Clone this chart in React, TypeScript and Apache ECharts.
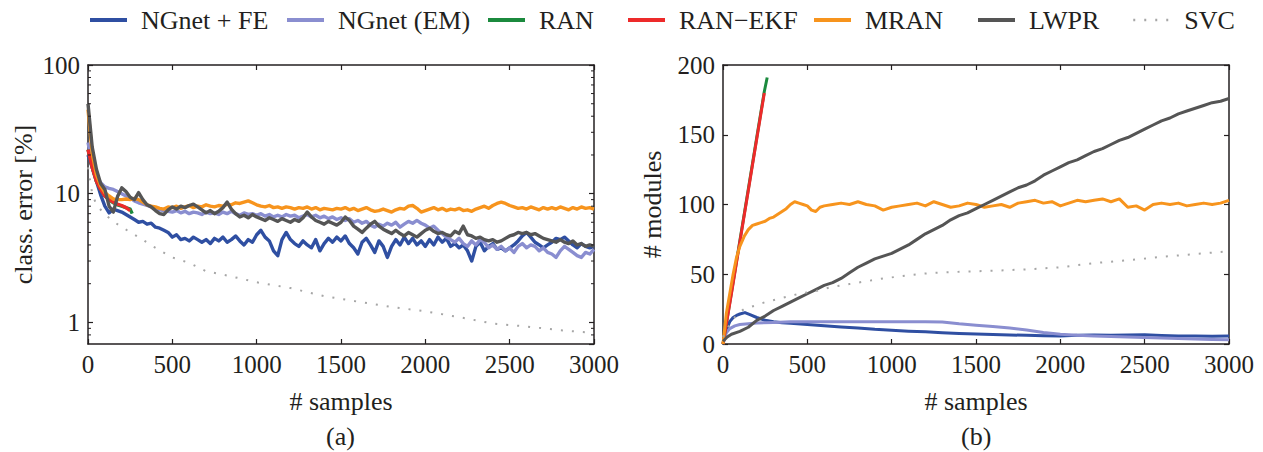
import React, { useEffect, useRef } from "react";
import * as echarts from "echarts";

const FONT = "'Liberation Serif', 'Times New Roman', Times, serif";
const INK = "#231f20";

const SERIES_NAMES = ["NGnet + FE", "NGnet (EM)", "RAN", "RAN\u2212EKF", "MRAN", "LWPR", "SVC"];
const SERIES_COLORS = ["#2f4fa2", "#8a8ed0", "#1b8a3e", "#ed2a2a", "#f7941d", "#555555", "#a6a6a6"];
const LEGEND_LEFT = [88, 285, 486, 626, 812, 976, 1132];

// x ticks for both panels
const SAMPLE_MIN = 0;
const SAMPLE_MAX = 3000;
const SAMPLE_STEP = 500;

// log-axis minor tick values for panel (a)
const MINOR_TICKS_A = [0.8, 0.9, 2, 3, 4, 5, 6, 7, 8, 9, 20, 30, 40, 50, 60, 70, 80, 90];

// Panel (a): classification error [%], sampled every 25 samples (0..3000)
const samplesA = Array.from({ length: 121 }, (_, i) => i * 25);

const errNGnetFE = [
  20, 16, 12.5, 9.8, 8.0, 7.1, 7.6, 7.4, 7.2, 6.9,
  6.6, 6.3, 6.0, 6.1, 5.8, 5.9, 5.5, 5.4, 5.2, 5.0,
  4.6, 4.8, 4.4, 4.5, 4.3, 4.6, 4.4, 4.2, 4.4, 4.1,
  4.5, 4.3, 4.6, 4.2, 4.4, 4.7, 4.3, 4.0, 4.4, 4.2,
  4.8, 5.2, 4.6, 4.3, 3.6, 3.3, 4.4, 5.0, 4.4, 4.1,
  3.9, 4.3, 4.0, 3.8, 4.4, 3.6, 4.1, 4.5, 4.2, 4.6,
  4.3, 4.7, 4.1, 3.8, 3.4, 4.2, 4.5, 4.0, 3.5, 4.3,
  3.9, 3.2, 3.9, 4.4, 4.0, 4.6, 4.1, 4.5, 4.0, 4.3,
  3.9, 4.4, 4.0, 4.6, 4.2, 4.5, 3.9, 4.1, 3.8, 4.0,
  3.6, 3.0, 3.9, 4.2, 3.6, 3.9, 4.1, 3.7, 3.8, 3.6,
  3.8, 4.0, 4.3, 4.7, 5.0, 4.6, 4.2, 4.0, 3.8, 4.0,
  4.2, 4.5, 4.4, 4.6, 4.3, 4.0, 3.8, 4.1, 3.9, 3.8,
  3.9,
];

const errNGnetEM = [
  25, 17, 13.5, 12.2, 11.3, 11.0, 10.8, 10.4, 10.0, 9.6,
  9.3, 8.8, 8.5, 8.3, 8.1, 7.9, 7.6, 7.5, 7.4, 7.3,
  7.2, 7.4, 7.1, 7.3, 7.0, 7.2, 7.1, 6.9, 7.2, 7.0,
  7.1, 6.9, 7.2, 7.0, 7.3, 7.0, 6.8, 7.1, 6.9, 7.0,
  6.8, 7.0, 6.7, 6.9, 6.6, 6.8, 6.6, 6.9, 6.7, 6.8,
  6.5, 6.7, 6.9, 6.6, 6.8, 6.5, 6.7, 6.4, 6.6, 6.3,
  6.5, 6.2, 6.4, 6.0, 6.2, 5.9, 6.1, 5.7, 5.5, 5.8,
  5.6, 5.9, 5.7, 6.0, 5.5, 5.8, 6.1, 5.9, 6.2, 5.9,
  5.7, 5.4, 5.6, 5.2, 4.9, 4.6, 4.4, 4.2, 4.5, 4.1,
  3.9, 4.3, 4.0, 4.4, 4.2, 3.8, 4.0, 3.7, 3.9, 3.6,
  3.8, 3.5, 3.9, 4.1, 3.8, 4.0, 3.9, 3.6, 3.8, 3.5,
  3.4, 3.2, 3.6, 3.9, 3.7, 3.5, 3.3, 3.2, 3.5, 3.4,
  3.7,
];

const errMRAN = [
  45, 20.5, 14, 11.5, 10.2, 9.6, 9.1, 9.0, 9.0, 9.1,
  9.0, 9.2, 9.0, 8.6, 8.2, 8.0, 7.9, 7.7, 7.6, 7.9,
  7.8, 8.0, 7.7, 7.9, 8.1, 7.8, 8.0, 7.9, 8.2, 8.0,
  7.9, 8.1, 8.0, 8.3, 8.2, 8.5, 8.4, 8.6, 8.8, 8.5,
  8.2, 8.0, 7.9, 8.1, 7.8, 7.9, 7.7, 7.9, 7.8, 7.6,
  7.8, 7.7, 7.9, 7.6, 7.8, 7.5, 7.7, 7.6, 7.5, 7.7,
  7.6, 7.8, 7.5, 7.7, 7.4, 7.6, 7.8, 7.5, 7.3, 7.4,
  7.6, 7.4, 7.2, 7.5, 7.7, 7.6, 8.0, 8.1, 7.7, 7.2,
  7.4, 7.6, 7.8, 7.5, 7.7, 7.4, 7.6, 7.5, 7.7, 7.4,
  7.5, 7.3, 7.6, 7.8, 8.0, 7.7, 8.1, 8.4, 8.6, 8.4,
  8.1, 7.9, 7.7, 7.8, 7.6, 7.9, 7.7, 7.5, 7.8, 7.6,
  7.8, 7.6, 7.9, 7.7, 7.5, 7.8, 7.6, 7.9, 7.7, 7.8,
  7.6,
];

const errLWPR = [
  50, 23, 15.5, 12, 10.8, 8.0, 7.2, 9.5, 11.1, 10.4,
  9.4, 9.0, 10.2, 9.0, 8.2, 7.9, 7.4, 7.0, 6.9, 7.5,
  7.9, 7.6, 8.0, 7.8, 8.1, 8.3, 7.9, 7.5, 7.1, 7.4,
  7.0, 7.3, 7.8, 8.6, 7.6, 7.0, 6.6, 6.8, 6.5, 6.9,
  6.6, 6.4, 6.2, 6.5, 6.3, 6.1, 6.4, 6.2, 6.0, 6.3,
  6.1, 6.5, 7.2, 6.6, 6.2, 6.0, 5.8, 6.1, 5.9, 5.7,
  6.0, 6.6, 6.2, 5.6, 5.3, 5.0, 5.4, 5.8, 6.1, 5.6,
  5.3, 5.1, 4.9, 5.2, 4.9, 4.7, 5.0, 4.8, 4.6, 4.9,
  5.2, 5.4, 5.1, 4.9, 5.0, 4.8, 4.7, 5.1, 4.9, 5.6,
  4.8, 4.7, 4.5, 4.6, 4.4, 4.3, 4.4, 4.2, 4.3, 4.5,
  4.7, 4.8, 5.0, 4.9, 5.0, 4.8, 4.9, 4.7, 4.5, 4.4,
  4.3, 4.2, 4.4, 4.2, 4.1, 4.3, 4.0, 4.1, 3.9, 4.0,
  3.9,
];

// [sample, error] pairs for the shorter / smoother curves
const errRAN = [[0, 22], [25, 16], [50, 12.5], [75, 10.8], [100, 9.6], [125, 9.0], [150, 8.5], [175, 8.2], [200, 8.0], [225, 7.8], [250, 7.6], [262, 7.0]];
const errRANEKF = [[0, 22], [25, 16], [50, 12.5], [75, 10.8], [100, 9.6], [125, 9.0], [150, 8.6], [175, 8.3], [200, 8.1], [225, 7.8], [250, 7.4]];
const errSVC = [
  [0, 16], [25, 10], [50, 8.2], [100, 6.9], [150, 6.1], [200, 5.5], [300, 4.6], [400, 3.8], [500, 3.2],
  [600, 2.9], [700, 2.5], [800, 2.35], [900, 2.2], [1000, 2.05], [1200, 1.85], [1400, 1.6], [1600, 1.45],
  [1800, 1.32], [2000, 1.22], [2200, 1.1], [2400, 0.98], [2600, 0.93], [2800, 0.87], [3000, 0.83],
];

// Panel (b): number of modules, [sample, count]
const modNGnetFE = [
  [0, 0], [20, 10], [40, 16], [60, 19], [80, 20.5], [100, 21.5], [130, 22.5], [160, 21], [200, 19], [250, 17],
  [300, 16], [350, 15.2], [400, 14.8], [500, 14], [600, 13], [700, 12.2], [800, 11.5], [900, 10.5], [1000, 9.8],
  [1100, 9.2], [1200, 8.7], [1300, 8.1], [1400, 7.6], [1500, 7.2], [1600, 6.8], [1700, 6.5], [1800, 6.2],
  [1900, 5.9], [2000, 5.7], [2100, 6.3], [2200, 6.5], [2300, 6.3], [2400, 6.5], [2500, 6.6], [2600, 6.1],
  [2700, 5.8], [2800, 5.8], [2900, 5.6], [3000, 5.8],
];
const modNGnetEM = [
  [0, 0], [20, 8], [40, 11], [70, 13], [100, 14], [150, 14.5], [200, 15], [300, 15.5], [400, 16], [600, 16],
  [800, 16], [1000, 16], [1200, 16], [1300, 15.8], [1400, 14.5], [1500, 13.5], [1600, 12.6], [1700, 11.5],
  [1800, 10], [1900, 8.3], [2000, 7], [2100, 6.2], [2200, 5.8], [2300, 5.4], [2400, 5.1], [2500, 4.7],
  [2600, 4.3], [2700, 4], [2800, 3.6], [2900, 3.2], [3000, 3],
];
const modRAN = [[0, 0], [50, 37], [100, 74], [150, 111], [200, 148], [245, 181], [262, 191]];
const modRANEKF = [[0, 0], [50, 36], [89, 65], [150, 110], [200, 147], [245, 180]];
const modMRAN = [
  [0, 0], [20, 22], [40, 36], [60, 50], [80, 62], [100, 70], [125, 77], [150, 82], [175, 85], [200, 86],
  [225, 87], [250, 88], [275, 90], [300, 91], [325, 93], [350, 95], [375, 97], [400, 100], [425, 102],
  [450, 101], [475, 100], [500, 99], [525, 96], [550, 95], [575, 98], [600, 99], [650, 100], [700, 101],
  [750, 100], [800, 102], [850, 100], [900, 99], [950, 96], [1000, 98], [1050, 99], [1100, 100], [1150, 101],
  [1200, 99], [1250, 102], [1300, 100], [1350, 98], [1400, 99], [1450, 101], [1500, 100], [1550, 98],
  [1600, 99], [1650, 100], [1700, 98], [1750, 101], [1800, 102], [1850, 103], [1900, 101], [1950, 102],
  [2000, 99], [2050, 101], [2100, 103], [2150, 102], [2200, 103], [2250, 104], [2300, 102], [2350, 104],
  [2400, 98], [2450, 99], [2500, 96], [2550, 100], [2600, 101], [2650, 100], [2700, 101], [2750, 99],
  [2800, 100], [2850, 101], [2900, 100], [2950, 101], [3000, 103],
];
const modLWPR = [
  [0, 2], [25, 5], [50, 7], [100, 9], [150, 12], [200, 17], [250, 20], [300, 24], [350, 27], [400, 30],
  [450, 33], [500, 36], [550, 39], [600, 42], [650, 44], [700, 47], [750, 51], [800, 55], [850, 58],
  [900, 61], [950, 63], [1000, 65], [1050, 68], [1100, 71], [1150, 75], [1200, 79], [1250, 82], [1300, 85],
  [1350, 89], [1400, 92], [1450, 94], [1500, 97], [1550, 100], [1600, 103], [1650, 106], [1700, 109],
  [1750, 112], [1800, 114], [1850, 117], [1900, 121], [1950, 124], [2000, 127], [2050, 130], [2100, 132],
  [2150, 135], [2200, 138], [2250, 140], [2300, 143], [2350, 146], [2400, 148], [2450, 151], [2500, 154],
  [2550, 157], [2600, 160], [2650, 162], [2700, 165], [2750, 167], [2800, 169], [2850, 171], [2900, 173],
  [2950, 174], [3000, 176],
];
const modSVC = [
  [0, 5], [40, 14], [80, 21], [130, 25.5], [190, 27.5], [250, 30], [350, 33], [450, 36], [550, 38],
  [650, 41], [750, 43], [850, 45], [950, 47], [1050, 48.5], [1150, 50], [1250, 51], [1350, 51.5],
  [1450, 52], [1600, 52.5], [1800, 53.5], [2000, 55], [2200, 58], [2400, 60], [2600, 62.5], [2800, 64.5],
  [3000, 66.5],
];

const pair = (vals: number[]) => samplesA.map((s, i) => [s, vals[i]]);

const panelA = [pair(errNGnetFE), pair(errNGnetEM), errRAN, errRANEKF, pair(errMRAN), pair(errLWPR), errSVC];
const panelB = [modNGnetFE, modNGnetEM, modRAN, modRANEKF, modMRAN, modLWPR, modSVC];

const GRIDS = [
  { left: 88, top: 65, width: 506, height: 279 },
  { left: 723, top: 65, width: 506, height: 279 },
];

const plainNumber = (v: number) => String(v);
const labelStyle = { color: INK, fontFamily: FONT, fontSize: 25, formatter: plainNumber };

function frameAxis(extra: any) {
  return {
    axisLine: { show: true, onZero: false, lineStyle: { color: INK, width: 1.5 } },
    axisTick: { show: true, inside: true, length: 5, lineStyle: { color: INK, width: 1.2 } },
    splitLine: { show: false },
    nameTextStyle: { color: INK, fontFamily: FONT, fontSize: 26 },
    ...extra,
  };
}

function xAxes(gridIndex: number) {
  const base = { gridIndex, type: "value", min: SAMPLE_MIN, max: SAMPLE_MAX, interval: SAMPLE_STEP };
  return [
    frameAxis({
      ...base,
      position: "bottom",
      name: "# samples",
      nameLocation: "middle",
      nameGap: 44,
      axisLabel: { ...labelStyle, margin: 8 },
    }),
    frameAxis({ ...base, position: "top", axisLabel: { show: false } }),
  ];
}

function lineSeries(data: any[], i: number, xi: number, yi: number, width: number) {
  const dotted = i === 6;
  return {
    name: SERIES_NAMES[i],
    type: "line",
    xAxisIndex: xi,
    yAxisIndex: yi,
    data,
    symbol: "none",
    showSymbol: false,
    smooth: false,
    color: SERIES_COLORS[i],
    lineStyle: {
      color: SERIES_COLORS[i],
      width: dotted ? 2 : width,
      type: dotted ? [2, 9] : "solid",
      cap: "butt",
      join: "round",
    },
    emphasis: { disabled: true },
    z: 2 + i,
  };
}

export default function App() {
  const ref = useRef<HTMLDivElement>(null);

  useEffect(() => {
    if (!ref.current) return;
    const chart = echarts.init(ref.current, undefined, { renderer: "svg" });

    const option: any = {
      animation: false,
      backgroundColor: "#ffffff",
      textStyle: { fontFamily: FONT },
      legend: LEGEND_LEFT.map((left, i) => ({
        data: [SERIES_NAMES[i]],
        left,
        top: 7,
        padding: 0,
        itemWidth: 37,
        itemHeight: 14,
        selectedMode: false,
        itemStyle: { opacity: 0, borderWidth: 0 },
        lineStyle: { width: i === 6 ? 2.5 : 4 },
        textStyle: { color: INK, fontFamily: FONT, fontSize: 26, padding: [0, 0, 0, 9] },
      })),
      grid: GRIDS.map((g) => ({ ...g, containLabel: false })),
      xAxis: [...xAxes(0), ...xAxes(1)],
      yAxis: [
        frameAxis({
          gridIndex: 0,
          type: "log",
          logBase: 10,
          min: 0.68,
          max: 100,
          position: "left",
          name: "class. error [%]",
          nameLocation: "middle",
          nameGap: 52,
          axisLabel: { ...labelStyle, margin: 8, showMinLabel: false },
        }),
        frameAxis({
          gridIndex: 0,
          type: "log",
          logBase: 10,
          min: 0.68,
          max: 100,
          position: "right",
          axisLabel: { show: false },
        }),
        frameAxis({
          gridIndex: 1,
          type: "value",
          min: 0,
          max: 200,
          interval: 50,
          position: "left",
          name: "# modules",
          nameLocation: "middle",
          nameGap: 58,
          axisLabel: { ...labelStyle, margin: 8 },
        }),
        frameAxis({
          gridIndex: 1,
          type: "value",
          min: 0,
          max: 200,
          interval: 50,
          position: "right",
          axisLabel: { show: false },
        }),
      ],
      series: [
        ...panelA.map((d, i) => lineSeries(d, i, 0, 0, 3.4)),
        ...panelB.map((d, i) => lineSeries(d, i, 2, 2, 3)),
        {
          type: "custom",
          xAxisIndex: 0,
          yAxisIndex: 0,
          silent: true,
          z: 20,
          clip: false,
          encode: { x: 0, y: 1 },
          data: MINOR_TICKS_A.map((v) => [SAMPLE_MIN, v]),
          renderItem: (_params: any, api: any) => {
            const v = api.value(1);
            const l = api.coord([SAMPLE_MIN, v]);
            const r = api.coord([SAMPLE_MAX, v]);
            const st = { stroke: INK, lineWidth: 1 };
            return {
              type: "group",
              children: [
                { type: "line", shape: { x1: l[0], y1: l[1], x2: l[0] + 3, y2: l[1] }, style: st },
                { type: "line", shape: { x1: r[0] - 3, y1: r[1], x2: r[0], y2: r[1] }, style: st },
              ],
            };
          },
        },
      ],
      graphic: [
        {
          type: "text",
          left: 341 - 15,
          top: 423,
          style: { text: "(a)", fill: INK, font: `26px ${FONT}` },
        },
        {
          type: "text",
          left: 976 - 15,
          top: 423,
          style: { text: "(b)", fill: INK, font: `26px ${FONT}` },
        },
      ],
    };

    chart.setOption(option);
    return () => chart.dispose();
  }, []);

  return (
    <div
      ref={ref}
      style={{ position: "fixed", left: 0, top: 0, width: 1263, height: 452, background: "#fff" }}
    />
  );
}
